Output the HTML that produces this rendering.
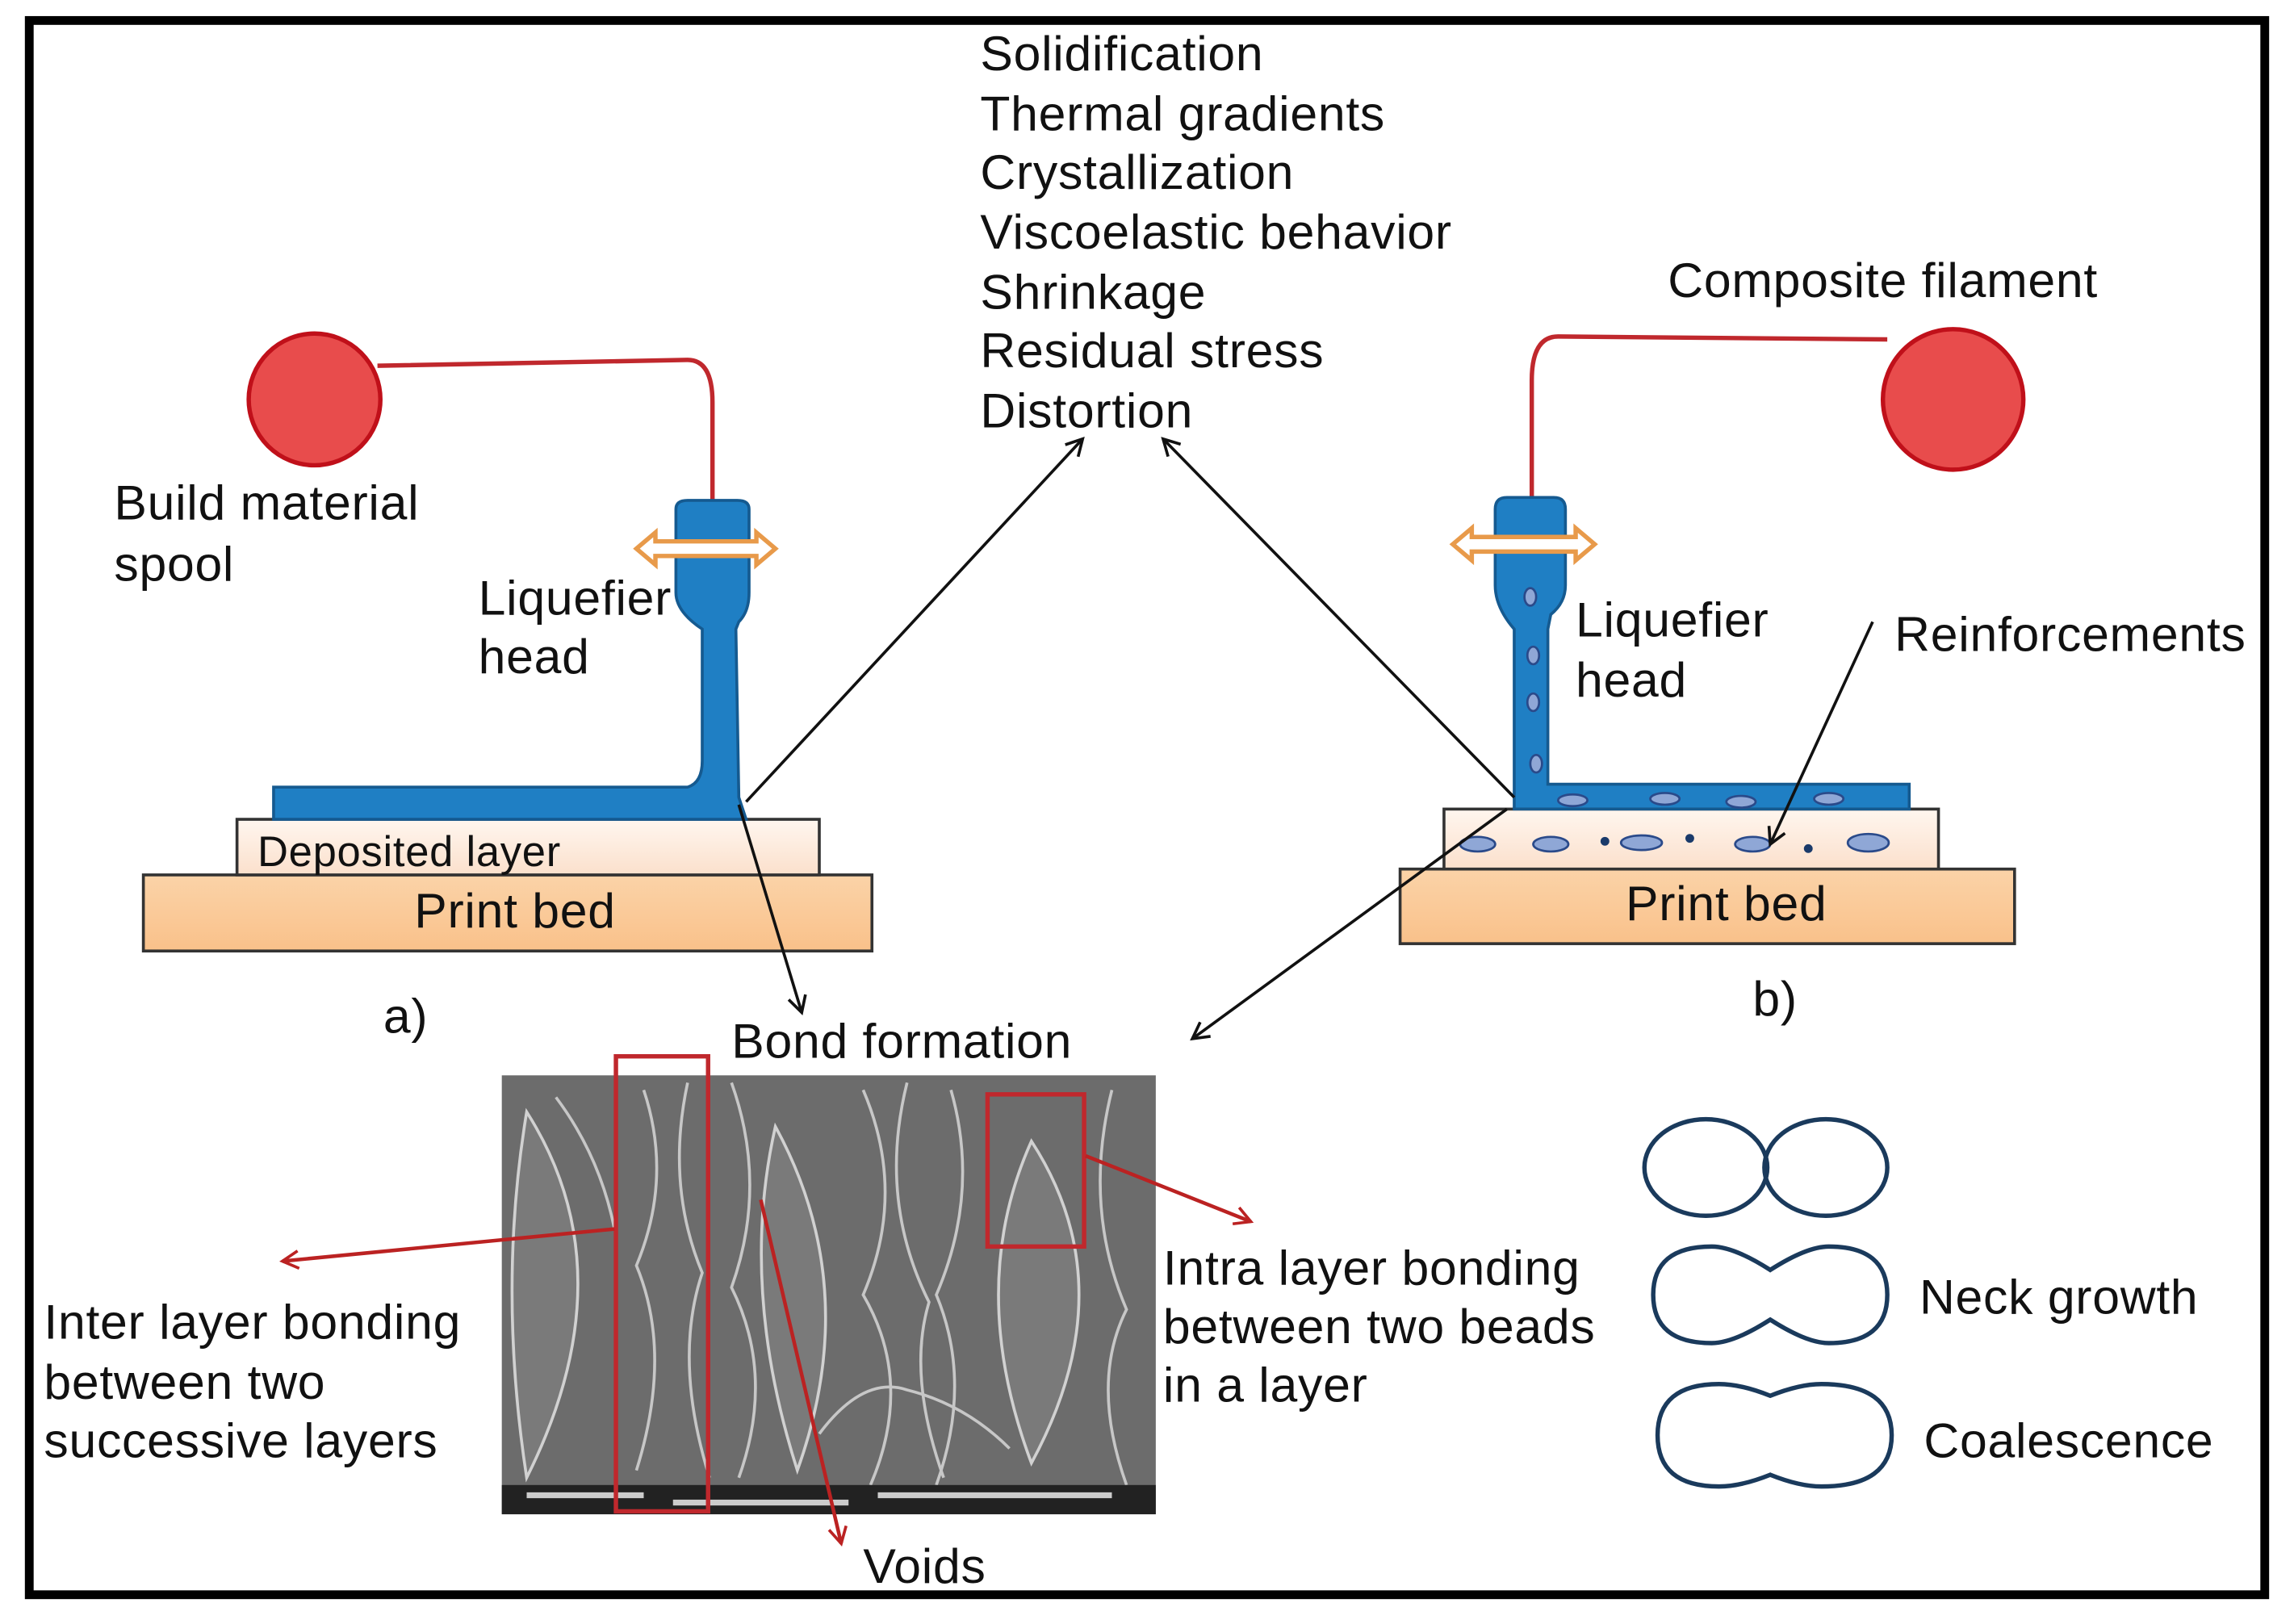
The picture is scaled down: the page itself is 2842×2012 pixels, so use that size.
<!DOCTYPE html>
<html><head><meta charset="utf-8"><style>
html,body{margin:0;padding:0;background:#fff}
svg{display:block}
text{font-family:"Liberation Sans",Arial,sans-serif;fill:#111;letter-spacing:0.4px}
</style></head><body>
<svg width="2842" height="2012" viewBox="0 0 1568 1110" preserveAspectRatio="none" xmlns="http://www.w3.org/2000/svg">
<defs>
<marker id="ab" markerWidth="14" markerHeight="14" refX="12" refY="7" orient="auto" markerUnits="userSpaceOnUse"><path d="M1,1 L12,7 L1,13" fill="none" stroke="#111" stroke-width="2"/></marker>
<marker id="ar" markerWidth="14" markerHeight="14" refX="12" refY="7" orient="auto" markerUnits="userSpaceOnUse"><path d="M1,1 L12,7 L1,13" fill="none" stroke="#b22" stroke-width="2"/></marker>
<linearGradient id="bed" x1="0" y1="0" x2="0" y2="1"><stop offset="0" stop-color="#fbd3a8"/><stop offset="1" stop-color="#f9c18a"/></linearGradient>
<linearGradient id="dep" x1="0" y1="0" x2="0" y2="1"><stop offset="0" stop-color="#fff6ef"/><stop offset="1" stop-color="#fbe0cc"/></linearGradient>
</defs>
<rect x="0" y="0" width="1568" height="1110" fill="#fff"/>
<rect x="20" y="14" width="1528" height="1076" fill="none" stroke="#000" stroke-width="6"/>

<g font-size="33.5">
<text x="670" y="48">Solidification</text>
<text x="670" y="89">Thermal gradients</text>
<text x="670" y="129">Crystallization</text>
<text x="670" y="170">Viscoelastic behavior</text>
<text x="670" y="211">Shrinkage</text>
<text x="670" y="251">Residual stress</text>
<text x="670" y="292">Distortion</text>
</g>

<path d="M258,250 L470,246 Q487,246 487,275 L487,345" fill="none" stroke="#c0282d" stroke-width="3"/>
<circle cx="215" cy="273" r="45" fill="#e84c4c" stroke="#c0101a" stroke-width="3"/>
<text x="78" y="355" font-size="33.5">Build material</text>
<text x="78" y="397" font-size="33.5">spool</text>
<rect x="98" y="598" width="498" height="52" fill="url(#bed)" stroke="#333" stroke-width="2"/>
<text x="352" y="634" font-size="33.5" text-anchor="middle">Print bed</text>
<rect x="162" y="560" width="398" height="38" fill="url(#dep)" stroke="#333" stroke-width="2"/>
<text x="176" y="592" font-size="29">Deposited layer</text>
<path d="M462,348 Q462,342 470,342 L504,342 Q512,342 512,348 L512,405 Q512,418 505,425 L503,430 L505,545 L510,560 L187,560 L187,538 L470,538 Q480,535 480,520 L480,430 Q462,418 462,405 Z" fill="#1f7fc4" stroke="#155a90" stroke-width="2"/>
<text x="327" y="420" font-size="33.5">Liquefier</text>
<text x="327" y="460" font-size="33.5">head</text>
<path d="M435,375 L448,364 L448,370 L517,370 L517,364 L530,375 L517,386 L517,380 L448,380 L448,386 Z" fill="#fff" stroke="#e89a4a" stroke-width="3"/>
<text x="262" y="706" font-size="33.5">a)</text>

<path d="M1290,232 L1065,230 Q1047,230 1047,260 L1047,345" fill="none" stroke="#c0282d" stroke-width="3"/>
<circle cx="1335" cy="273" r="48" fill="#e84c4c" stroke="#c0101a" stroke-width="3"/>
<text x="1140" y="203" font-size="33.5">Composite filament</text>
<rect x="957" y="594" width="420" height="51" fill="url(#bed)" stroke="#333" stroke-width="2"/>
<text x="1180" y="629" font-size="33.5" text-anchor="middle">Print bed</text>
<rect x="987" y="553" width="338" height="41" fill="url(#dep)" stroke="#333" stroke-width="2"/>
<path d="M1022,348 Q1022,340 1030,340 L1062,340 Q1070,340 1070,348 L1070,400 Q1070,412 1060,420 L1058,430 L1058,536 L1305,536 L1305,553 L1035,553 L1035,430 Q1022,415 1022,400 Z" fill="#1f7fc4" stroke="#155a90" stroke-width="2"/>
<g fill="#8fa7d6" stroke="#2a4a8a" stroke-width="1.5">
<ellipse cx="1046" cy="408" rx="4" ry="6"/><ellipse cx="1048" cy="448" rx="4" ry="6"/><ellipse cx="1048" cy="480" rx="4" ry="6"/><ellipse cx="1050" cy="522" rx="4" ry="6"/>
<ellipse cx="1075" cy="547" rx="10" ry="4"/><ellipse cx="1138" cy="546" rx="10" ry="4"/><ellipse cx="1190" cy="548" rx="10" ry="4"/><ellipse cx="1250" cy="546" rx="10" ry="4"/>
<ellipse cx="1010" cy="577" rx="12" ry="5"/><ellipse cx="1060" cy="577" rx="12" ry="5"/><ellipse cx="1122" cy="576" rx="14" ry="5"/><ellipse cx="1198" cy="577" rx="12" ry="5"/><ellipse cx="1277" cy="576" rx="14" ry="6"/>
</g>
<g fill="#1a3a6a"><circle cx="1097" cy="575" r="3"/><circle cx="1155" cy="573" r="3"/><circle cx="1236" cy="580" r="3"/></g>
<path d="M993,372 L1006,361 L1006,367 L1077,367 L1077,361 L1090,372 L1077,383 L1077,377 L1006,377 L1006,383 Z" fill="#fff" stroke="#e89a4a" stroke-width="3"/>
<text x="1077" y="435" font-size="33.5">Liquefier</text>
<text x="1077" y="476" font-size="33.5">head</text>
<text x="1295" y="445" font-size="33.5">Reinforcements</text>
<text x="1198" y="694" font-size="33.5">b)</text>

<g stroke="#111" stroke-width="2" fill="none">
<line x1="510" y1="548" x2="740" y2="300" marker-end="url(#ab)"/>
<line x1="1035" y1="545" x2="795" y2="300" marker-end="url(#ab)"/>
<line x1="1030" y1="553" x2="815" y2="710" marker-end="url(#ab)"/>
<line x1="505" y1="550" x2="548" y2="692" marker-end="url(#ab)"/>
<line x1="1280" y1="425" x2="1210" y2="577" marker-end="url(#ab)"/>
</g>
<text x="500" y="723" font-size="33.5">Bond formation</text>

<rect x="343" y="735" width="447" height="300" fill="#6c6c6c"/>
<g fill="#7c7c7c" stroke="#ddd" stroke-width="2" opacity="0.9">
<path d="M360,760 Q430,870 360,1010 Q340,880 360,760Z"/>
<path d="M530,770 Q590,880 545,1005 Q505,880 530,770Z"/>
<path d="M705,780 Q770,880 705,1000 Q660,880 705,780Z"/>
</g>
<g fill="none" stroke="#e6e6e6" stroke-width="2" opacity="0.75">
<path d="M440,745 q20,60 -5,120 q25,60 0,140"/><path d="M470,740 q-15,70 10,130 q-20,60 5,140"/>
<path d="M500,740 q25,70 0,140 q30,60 5,130"/><path d="M590,745 q30,70 0,140 q35,60 5,130"/>
<path d="M620,740 q-20,80 15,150 q-15,50 10,120"/><path d="M650,745 q20,70 -10,140 q25,60 0,130"/>
<path d="M760,745 q-20,80 10,150 q-25,50 0,120"/><path d="M380,750 q30,40 40,90"/>
<path d="M560,980 q30,-40 60,-30 q40,10 70,40"/>
</g>
<rect x="343" y="1015" width="447" height="20" fill="#222"/>
<g fill="#ccc"><rect x="360" y="1020" width="80" height="4"/><rect x="460" y="1025" width="120" height="4"/><rect x="600" y="1020" width="160" height="4"/></g>
<rect x="421" y="722" width="63" height="311" fill="none" stroke="#c0282d" stroke-width="3"/>
<rect x="675" y="748" width="66" height="104" fill="none" stroke="#c0282d" stroke-width="3"/>
<g stroke="#b22" stroke-width="2.5" fill="none">
<line x1="420" y1="840" x2="193" y2="862" marker-end="url(#ar)"/>
<line x1="742" y1="790" x2="855" y2="835" marker-end="url(#ar)"/>
<line x1="520" y1="820" x2="575" y2="1055" marker-end="url(#ar)"/>
</g>
<g font-size="33.5">
<text x="30" y="915">Inter layer bonding</text>
<text x="30" y="956">between two</text>
<text x="30" y="996">successive layers</text>
<text x="795" y="878">Intra layer bonding</text>
<text x="795" y="918">between two beads</text>
<text x="795" y="958">in a layer</text>
<text x="590" y="1082">Voids</text>
<text x="1312" y="898">Neck growth</text>
<text x="1315" y="996">Coalescence</text>
</g>

<g fill="none" stroke="#1a3a5c" stroke-width="3">
<ellipse cx="1166" cy="798" rx="42" ry="33"/>
<ellipse cx="1248" cy="798" rx="42" ry="33"/>
<path d="M1210,868 Q1185,852 1170,852 Q1130,852 1130,885 Q1130,918 1170,918 Q1185,918 1210,902 Q1235,918 1250,918 Q1290,918 1290,885 Q1290,852 1250,852 Q1235,852 1210,868Z"/>
<path d="M1210,954 Q1190,946 1175,946 Q1133,946 1133,981 Q1133,1016 1175,1016 Q1190,1016 1210,1008 Q1230,1016 1245,1016 Q1293,1016 1293,981 Q1293,946 1245,946 Q1230,946 1210,954Z"/>
</g>
</svg>
</body></html>
